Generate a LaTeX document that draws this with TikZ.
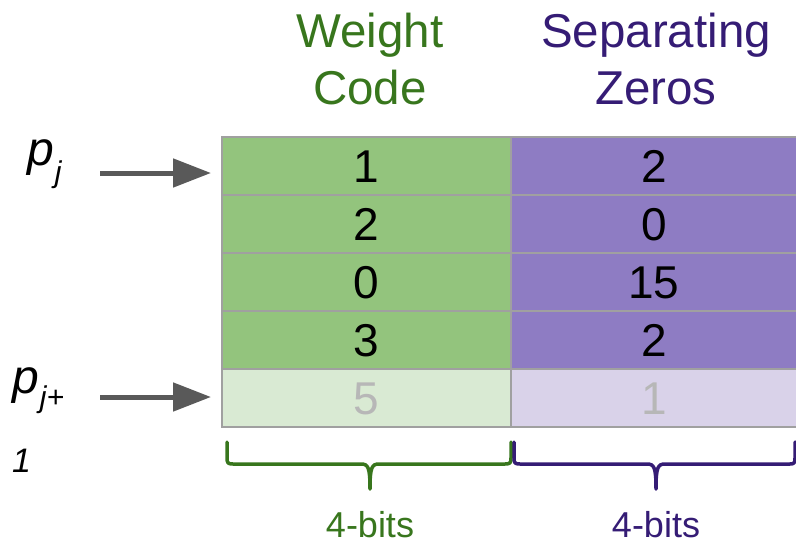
\documentclass[tikz,border=0pt]{standalone}
\usepackage{fontspec}
\setmainfont{Liberation Sans}
\usetikzlibrary{arrows.meta}
\definecolor{gfill}{HTML}{93C47D}
\definecolor{gfilllight}{HTML}{D9EAD3}
\definecolor{pfill}{HTML}{8E7CC3}
\definecolor{pfilllight}{HTML}{D9D2E9}
\definecolor{gtext}{HTML}{38761D}
\definecolor{ptext}{HTML}{351C75}
\definecolor{gridgray}{HTML}{A0A0A0}
\definecolor{arrowgray}{HTML}{595959}
\definecolor{fadedtext}{HTML}{B7B7B7}
\tikzset{
  cellbox/.style={draw=gridgray, line width=1.5pt, inner sep=0pt, minimum height=58pt,
    font=\fontsize{46}{46}\selectfont, text height=33pt, text depth=0pt},
  wcell/.style={cellbox, fill=gfill, minimum width=289pt},
  scell/.style={cellbox, fill=pfill, minimum width=286pt},
  head/.style={anchor=base, inner sep=0pt, font=\fontsize{47.5}{47.5}\selectfont},
  ptr/.style={line width=5pt, arrowgray, -{Triangle[length=38pt,width=28pt]}},
  bracepath/.style={line width=3.5pt, line join=round, line cap=round},
  bitslabel/.style={anchor=base, inner sep=0pt, font=\fontsize{36}{36}\selectfont},
  plabel/.style={anchor=base west, inner sep=0pt, font=\fontsize{48}{48}\selectfont\itshape}
}
\begin{document}
\begin{tikzpicture}[x=1pt,y=-1pt]
\useasboundingbox (0,0) rectangle (796,544);
% headings
\node[head, gtext] (h1a) at (370,47) {Weight};
\node[head, gtext] (h1b) at (370,104) {Code};
\node[head, ptext] (h2a) at (656,47) {Separating};
\node[head, ptext] (h2b) at (656,104) {Zeros};
% table
\node[wcell] (w1) at (366.5,166) {1};
\node[wcell] (w2) at (366.5,224) {2};
\node[wcell] (w3) at (366.5,282) {0};
\node[wcell] (w4) at (366.5,340) {3};
\node[wcell, fill=gfilllight, text=fadedtext] (w5) at (366.5,398) {5};
\node[scell] (s1) at (654,166) {2};
\node[scell] (s2) at (654,224) {0};
\node[scell] (s3) at (654,282) {15};
\node[scell] (s4) at (654,340) {2};
\node[scell, fill=pfilllight, text=fadedtext] (s5) at (654,398) {1};
% pointer labels
\node[plabel] (pj) at (27,165) {p\hspace{1pt}\raisebox{-17pt}{\fontsize{30}{30}\selectfont j}};
\node[plabel] (pj1) at (12,393) {p\hspace{1pt}\raisebox{-14pt}{\fontsize{30}{30}\selectfont j+}};
\node[plabel, font=\fontsize{34}{34}\selectfont\itshape] (pj1b) at (12,472) {1};
% arrows
\coordinate (a1s) at (100,173);
\coordinate (a1e) at (211,173);
\coordinate (a2s) at (100,397);
\coordinate (a2e) at (211,397);
\draw[ptr] (a1s) -- (a1e);
\draw[ptr] (a2s) -- (a2e);
% braces
\draw[bracepath, gtext] (227,442) -- (227,458) .. controls (227,463) and (228,464) .. (233,464)
  -- (361,464) .. controls (368,464) and (370,467) .. (370,489)
  .. controls (370,467) and (372,464) .. (379,464)
  -- (505,464) .. controls (510,464) and (511,463) .. (511,458) -- (511,442);
\draw[bracepath, ptext] (514,442) -- (514,458) .. controls (514,463) and (515,464) .. (520,464)
  -- (647,464) .. controls (654,464) and (656,467) .. (656,489)
  .. controls (656,467) and (658,464) .. (665,464)
  -- (790,464) .. controls (794,464) and (795,463) .. (795,458) -- (795,442);
% bit labels
\node[bitslabel, gtext] (b1) at (370,537) {4-bits};
\node[bitslabel, ptext] (b2) at (656,537) {4-bits};
\end{tikzpicture}
\end{document}
